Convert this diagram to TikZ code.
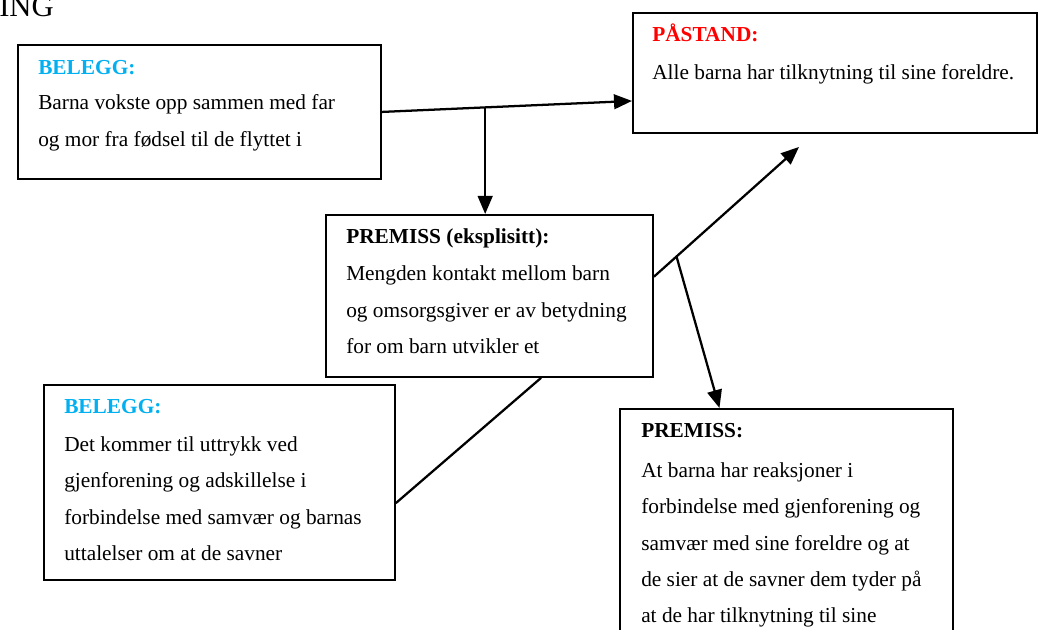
\documentclass[tikz,border=0pt]{standalone}
\usepackage{fontspec}
\setmainfont{Liberation Serif}
\usetikzlibrary{arrows.meta,calc}
\definecolor{beleggblue}{RGB}{0,176,240}
\definecolor{pastandred}{RGB}{255,0,0}
\begin{document}
\begin{tikzpicture}[x=0.75pt,y=-0.75pt,
  box/.style={draw=black, line width=1.4pt, inner sep=0pt, anchor=north west},
  txt/.style={anchor=base west, inner sep=0pt, font=\fontsize{16}{19}\selectfont},
  head/.style={anchor=base west, inner sep=0pt, font=\fontsize{16}{19}\selectfont\bfseries},
  conn/.style={line width=1.7pt},
  arr/.style={conn, -{Triangle[length=13.5pt,width=11pt]}}]
\useasboundingbox (0,0) rectangle (1038,630);
\fill[white] (0,0) rectangle (1038,630);
\clip (0,0) rectangle (1038,630);

% title fragment
\node[anchor=base west, inner sep=0pt, font=\fontsize{23}{27}\selectfont] (title) at (-1,17) {ING};

% boxes
\node[box, minimum width=363*0.75pt, minimum height=134*0.75pt] (b1) at (17,44) {};
\node[box, minimum width=404*0.75pt, minimum height=120*0.75pt] (b2) at (632,12) {};
\node[box, minimum width=327*0.75pt, minimum height=162*0.75pt] (b3) at (325,214) {};
\node[box, minimum width=351*0.75pt, minimum height=195*0.75pt] (b4) at (43,384) {};
\node[box, minimum width=333*0.75pt, minimum height=260*0.75pt] (b5) at (619,408) {};

% box 1 text
\node[head, text=beleggblue] (b1h) at (38,75) {BELEGG:};
\node[txt] (b1l1) at (38,110) {Barna vokste opp sammen med far};
\node[txt] (b1l2) at (38,147) {og mor fra fødsel til de flyttet i};

% box 2 text
\node[head, text=pastandred] (b2h) at (652,42) {PÅSTAND:};
\node[txt] (b2l1) at (652,80) {Alle barna har tilknytning til sine foreldre.};

% box 3 text
\node[head] (b3h) at (346,244) {PREMISS (eksplisitt):};
\node[txt] (b3l1) at (346,281) {Mengden kontakt mellom barn};
\node[txt] (b3l2) at (346,318) {og omsorgsgiver er av betydning};
\node[txt] (b3l3) at (346,354) {for om barn utvikler et};

% box 4 text
\node[head, text=beleggblue] (b4h) at (64,414) {BELEGG:};
\node[txt] (b4l1) at (64,451) {Det kommer til uttrykk ved};
\node[txt] (b4l2) at (64,487) {gjenforening og adskillelse i};
\node[txt] (b4l3) at (64,524) {forbindelse med samvær og barnas};
\node[txt] (b4l4) at (64,560) {uttalelser om at de savner};

% box 5 text
\node[head] (b5h) at (641,438) {PREMISS:};
\node[txt] (b5l1) at (641,477) {At barna har reaksjoner i};
\node[txt] (b5l2) at (641,513) {forbindelse med gjenforening og};
\node[txt] (b5l3) at (641,550) {samvær med sine foreldre og at};
\node[txt] (b5l4) at (641,586) {de sier at de savner dem tyder på};
\node[txt] (b5l5) at (641,622) {at de har tilknytning til sine};

% connectors
\coordinate (p1s) at ($(b1.south east)!0.5!(b1.north east)$);
\coordinate (p1e) at ($(b2.south west)!0.27!(b2.north west)$);
\draw[arr] (p1s) -- (p1e);
\coordinate (j1) at ($(p1s)!0.413!(p1e)$);
\draw[arr] (j1) -- (j1 |- b3.north);

\coordinate (p3s) at ($(b3.south east)!0.617!(b3.north east)$);
\coordinate (t1) at (799,147);
\draw[arr] (p3s) -- (t1);
\coordinate (j2) at ($(p3s)!0.156!(t1)$);
\draw[arr] (j2) -- ($(b5.north west)!0.30!(b5.north east)$);

\draw[conn] ($(b4.north east)!0.605!(b4.south east)$) -- ($(b3.south west)!0.657!(b3.south east)$);
\end{tikzpicture}
\end{document}
